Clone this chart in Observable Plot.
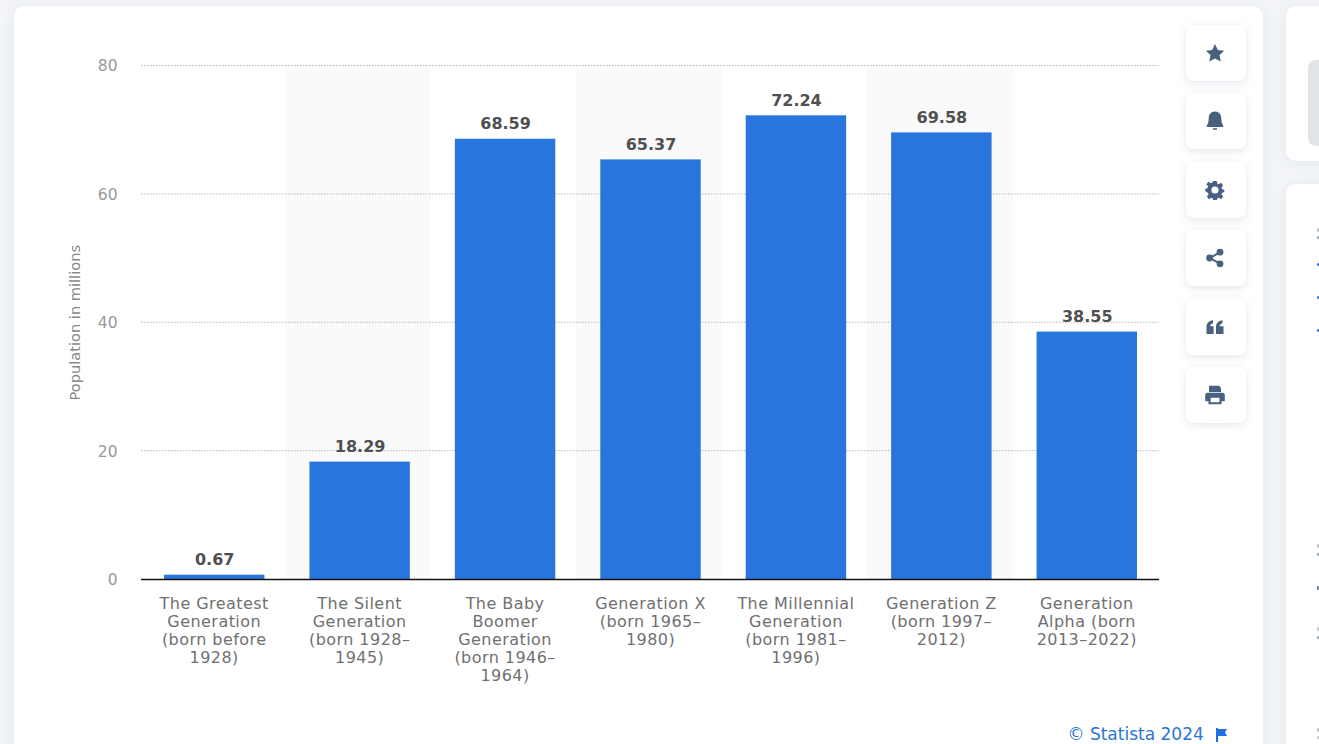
<!DOCTYPE html>
<html>
<head>
<meta charset="utf-8">
<script src="https://cdn.jsdelivr.net/npm/d3@7"></script>
<script src="https://cdn.jsdelivr.net/npm/@observablehq/plot@0.6"></script>
<style>
  html, body { margin: 0; padding: 0; width: 1319px; height: 744px; overflow: hidden; background: #f3f5f8; font-family: "DejaVu Sans", sans-serif; }
  .card { position: absolute; background: #fff; border-radius: 10px; box-shadow: 0 2px 14px rgba(90,110,140,.10); }
  #main { left: 14px; top: 6px; width: 1249px; height: 760px; }
  #side-a { left: 1286px; top: 6px; width: 60px; height: 155px; }
  #side-b { left: 1286px; top: 184px; width: 60px; height: 600px; }
  #thumb { position: absolute; left: 1308px; top: 60px; width: 30px; height: 86px; background: #e1e4e7; border-radius: 8px; }
  #chart { position: absolute; left: 0; top: 0; }
  #chart svg { background: transparent; display: block; }
  #chart g[aria-label="x-axis tick label"] text { letter-spacing: .45px; }
  .btn { position: absolute; left: 1186px; width: 60px; height: 56px; background: #fff; border-radius: 7px; box-shadow: 0 2px 8px rgba(80,100,130,.16); display: flex; align-items: center; justify-content: center; }
  .btn svg { width: 20px; height: 20px; fill: #47617f; margin: -1px 0 0 -2px; }
  #source { position: absolute; left: 1067.5px; top: 723px; font-size: 17px; line-height: 22px; color: #2b74d8; white-space: nowrap; }
  #flag { position: absolute; left: 1216px; top: 728px; width: 11px; height: 14px; fill: #1f6fe0; }
  .tick { position: absolute; left: 1317px; width: 2px; height: 3px; border-radius: 1px; }
</style>
</head>
<body>
<div class="card" id="main"></div>
<div class="card" id="side-a"></div>
<div class="card" id="side-b"></div>
<div id="thumb"></div>
<div id="chart"></div>
<div class="btn" style="top:25px"><svg viewBox="0 0 20 20"><path d="M10 1l2.8 5.9 6.4.8-4.7 4.4 1.2 6.4L10 15.4l-5.7 3.1 1.2-6.4L.8 7.7l6.4-.8z"/></svg></div>
<div class="btn" style="top:93px"><svg viewBox="0 0 20 20"><path d="M10 .5c4.1 0 6.3 3 6.3 7 0 3.6.9 5.6 1.9 7v1.6H1.8v-1.6c1-1.4 1.9-3.4 1.9-7 0-4 2.2-7 6.3-7zM8 17.2h4v1.6H8z"/></svg></div>
<div class="btn" style="top:162px"><svg viewBox="0 0 20 20"><path fill-rule="evenodd" d="M8.3 1h3.4l.5 2.5 1.7.7 2.2-1.4 2.1 2.6-1.7 1.9.4 1.7 2.4.9v2.2l-2.4.9-.4 1.7 1.7 1.9-2.1 2.6-2.2-1.4-1.7.7-.5 2.3H8.3l-.5-2.3-1.7-.7-2.2 1.4-2.1-2.6 1.7-1.9-.4-1.7L.2 11.1V8.9l2.4-.9.4-1.7-1.7-1.9 2.1-2.6 2.2 1.4 1.7-.7zM10 6.4a3.6 3.6 0 1 0 0 7.2 3.6 3.6 0 0 0 0-7.2z"/></svg></div>
<div class="btn" style="top:230px"><svg viewBox="0 0 20 20"><circle cx="15" cy="4.2" r="3.4"/><circle cx="15" cy="15.8" r="3.4"/><circle cx="4.6" cy="10" r="3.4"/><path d="M5 8.8l9.4-5.4 1 1.8L6 10.6zM6 9.4l9.4 5.4-1 1.8L5 11.2z"/></svg></div>
<div class="btn" style="top:299px"><svg viewBox="0 0 20 20"><path d="M1.5 17V10C1.5 6.4 3.6 3.8 8 3.2v3C6.1 6.7 5.3 7.8 5.2 9.2h3.4V17zM11 17v-7c0-3.6 2.1-6.2 6.5-6.8v3c-1.9.5-2.7 1.6-2.8 3h3.8V17z"/></svg></div>
<div class="btn" style="top:367px"><svg viewBox="0 0 20 20"><path fill-rule="evenodd" d="M4 .8h10l2 2V7H4zM2.6 7.8h14.8A2.4 2.4 0 0 1 19.8 10.2v6h-3.3v3h-13v-3H.2v-6a2.4 2.4 0 0 1 2.4-2.4zM5.6 12.8v4.4h8.8v-4.4z"/></svg></div>
<div class="tick" style="top:228px;height:4px;background:#c4c8cd"></div>
<div class="tick" style="top:236px;height:3px;background:#98a0aa"></div>
<div class="tick" style="top:263px;background:#2b74d8"></div>
<div class="tick" style="top:296px;background:#2b74d8"></div>
<div class="tick" style="top:329px;background:#2b74d8"></div>
<div class="tick" style="top:544px;height:4px;background:#c4c8cd"></div>
<div class="tick" style="top:553px;background:#98a0aa"></div>
<div class="tick" style="top:586px;height:4px;background:#6b7a90"></div>
<div class="tick" style="top:627px;height:4px;background:#c4c8cd"></div>
<div class="tick" style="top:636px;background:#98a0aa"></div>
<div class="tick" style="top:728px;height:4px;background:#c4c8cd"></div>
<div class="tick" style="top:736px;background:#c4c8cd"></div>
<div id="source">© Statista 2024</div>
<svg id="flag" viewBox="0 0 11 14"><path d="M0 0h2v1h9L9 4.2 11 8H2v6H0z"/></svg>
<script>
// US population by generation, in millions
const generations = [
  "The Greatest\nGeneration\n(born before\n1928)",
  "The Silent\nGeneration\n(born 1928–\n1945)",
  "The Baby\nBoomer\nGeneration\n(born 1946–\n1964)",
  "Generation X\n(born 1965–\n1980)",
  "The Millennial\nGeneration\n(born 1981–\n1996)",
  "Generation Z\n(born 1997–\n2012)",
  "Generation\nAlpha (born\n2013–2022)"
];
const population = [0.67, 18.29, 68.59, 65.37, 72.24, 69.58, 38.55];
const shadedBands = [generations[1], generations[3], generations[5]];
const yTicks = [0, 20, 40, 60, 80];

const rows = generations.map((generation, i) => ({generation, value: population[i]}));

const chart = Plot.plot({
  width: 1319,
  height: 744,
  marginLeft: 141,
  marginRight: 160,
  marginTop: 65.5,
  marginBottom: 165,
  style: {fontFamily: "'DejaVu Sans', sans-serif", background: "transparent", overflow: "visible"},
  x: {domain: generations, padding: 0, align: 0.5, round: false, label: null},
  y: {domain: [0, 80], label: null},
  marks: [
    // Alternating column shading
    Plot.barY(shadedBands, {x: d => d, y1: 0, y2: 80, fill: "#fafafa", dx: -1}),
    // Dotted horizontal grid
    Plot.ruleY(yTicks.filter(t => t > 0), {stroke: "#b5b8bb", strokeWidth: 1, strokeDasharray: "1.5,1.5", dy: -0.5}),
    Plot.barY(rows, {x: "generation", y: "value", fill: "#2876dd", insetLeft: 22.5, insetRight: 22.5, dx: 0.5}),
    Plot.ruleY([0], {stroke: "#111", strokeWidth: 1.5}),
    Plot.text(rows, {
      x: "generation", y: "value", text: d => d.value.toFixed(2),
      dy: -10, dx: 0.5, lineAnchor: "bottom", fontSize: 16, fontWeight: 700, fill: "#505050"
    }),
    Plot.axisX({
      tickSize: 0, tickPadding: 16.5, lineHeight: 1.125, lineAnchor: "top",
      fontSize: 16, fill: "#707070", label: null
    }),
    Plot.axisY({
      ticks: yTicks, tickSize: 0, tickPadding: 24, fontSize: 15.5, fill: "#999", dy: 0.5,
      label: null
    }),
    Plot.axisY({
      ticks: [], tickSize: 0, fontSize: 14.6, fill: "#888",
      label: "Population in millions", labelAnchor: "center", labelArrow: "none", labelOffset: 72
    })
  ]
});
document.getElementById("chart").appendChild(chart);
</script>
</body>
</html>
